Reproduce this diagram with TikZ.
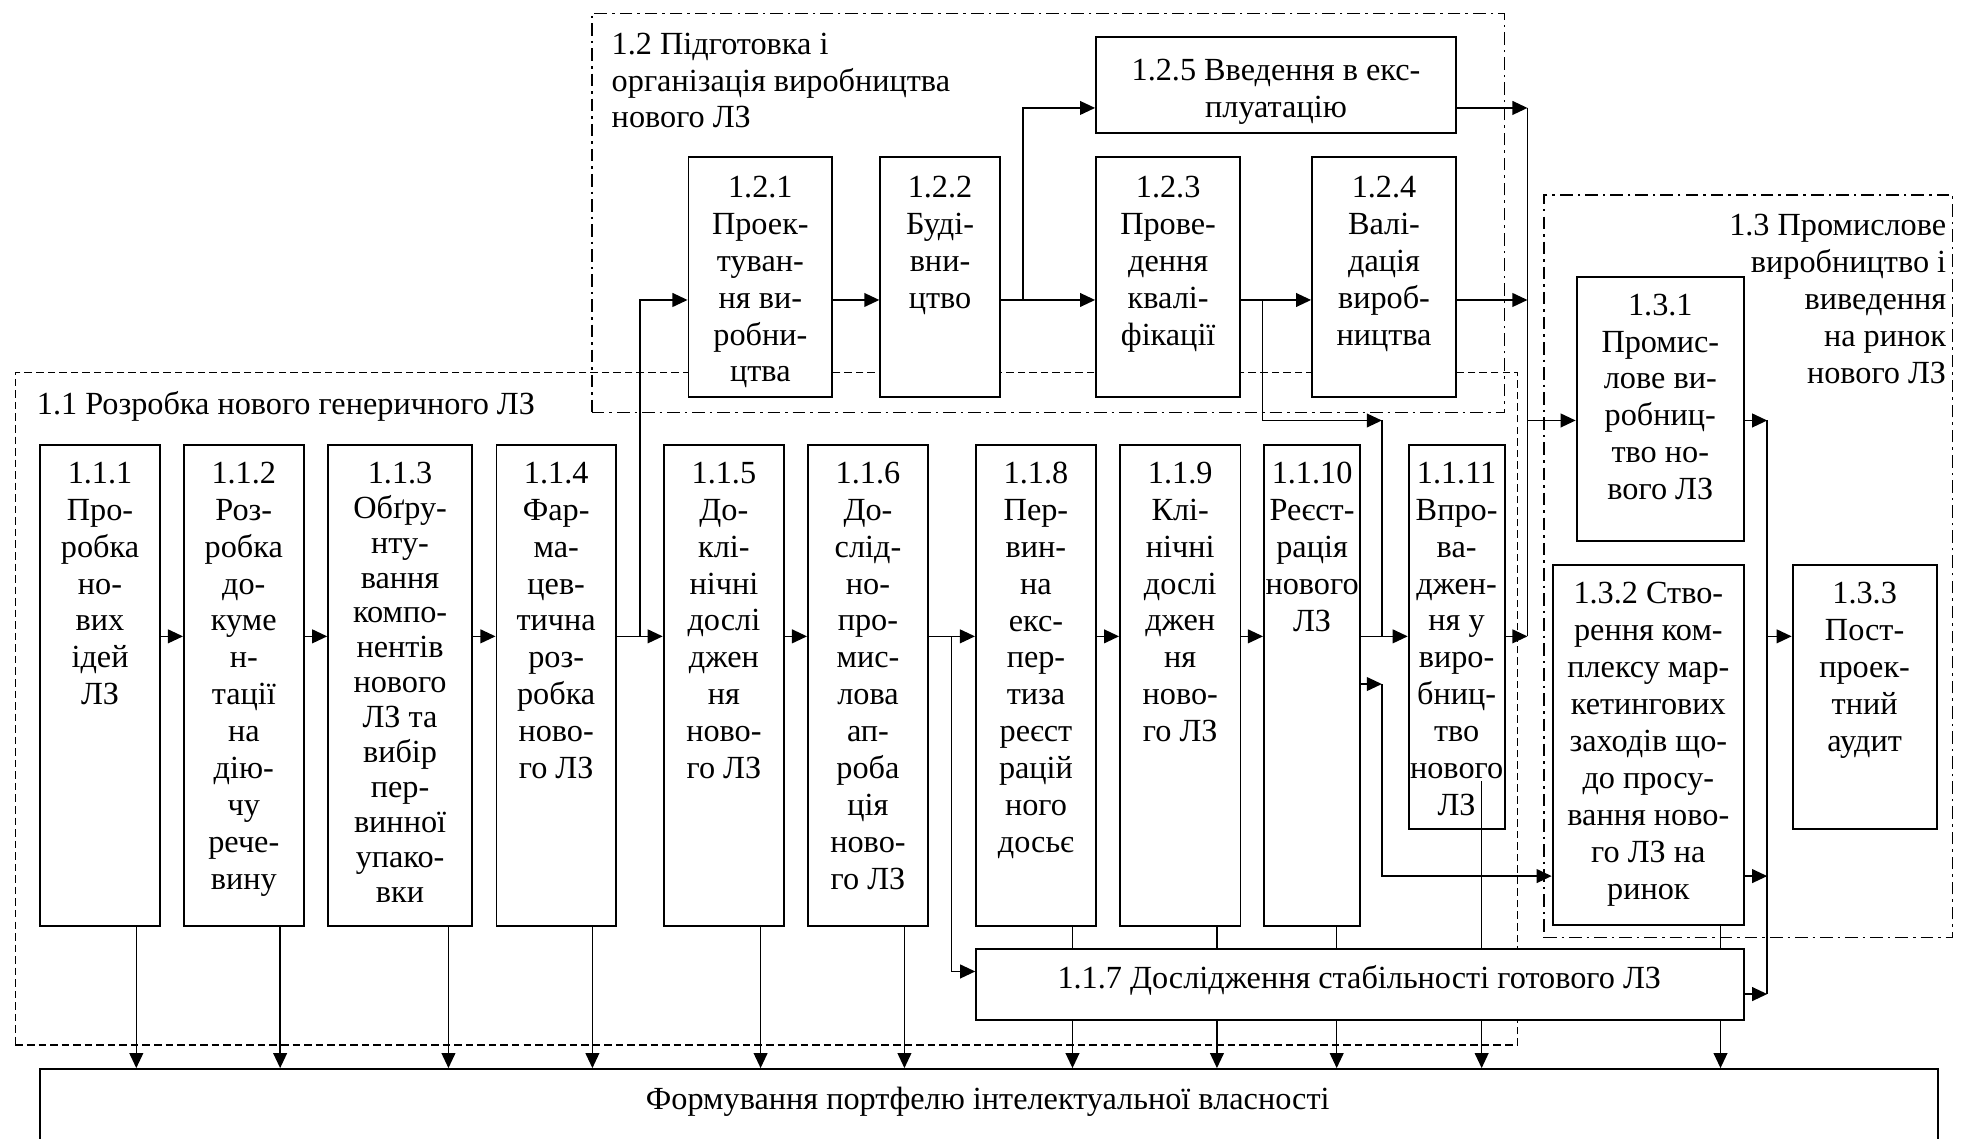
\documentclass[tikz,border=0pt]{standalone}
\usepackage{fontspec}
\setmainfont{Liberation Serif}
\usetikzlibrary{arrows.meta}
\tikzset{
  blk/.style={draw, fill=white, line width=0.75pt, inner sep=0pt, anchor=north west},
  txt/.style={anchor=north, align=center, inner sep=0pt, font=\fontsize{12.85}{14.7}\selectfont},
  lbl/.style={inner sep=0pt, font=\fontsize{12.85}{14.7}\selectfont},
  con/.style={line width=0.6pt},
  arr/.style={con, -{Triangle[length=6pt,width=5.5pt]}},
  grpdash/.style={draw, line width=0.6pt, dash pattern=on 3pt off 1.6pt, inner sep=0pt, anchor=north west},
  grpdot/.style={draw, line width=0.6pt, dash pattern=on 5pt off 2pt on 1pt off 2pt, inner sep=0pt, anchor=north west},
}
\newcommand{\mkbox}[7]{%
  \node[blk, minimum width={(#4-#2)*0.5pt}, minimum height={(#5-#3)*0.5pt}] (#1) at (#2,#3) {};
  \node[txt, #6] (#1t) at (#1.north) {#7};
}
\begin{document}
\begin{tikzpicture}[x=0.5pt,y=-0.5pt]
\useasboundingbox (0,0) rectangle (1568,907);
\clip (0,0) rectangle (1568,907);
% groups
\node[grpdash, minimum width={(1208.5-11.7)*0.5pt}, minimum height={(832-296)*0.5pt}] (g11) at (11.7,296) {};
\node[grpdot, minimum width={(1198-471)*0.5pt}, minimum height={(328-10)*0.5pt}] (g12) at (471,10) {};
\node[grpdot, minimum width={(1555-1229.6)*0.5pt}, minimum height={(746.5-154.6)*0.5pt}] (g13) at (1229.6,154.6) {};
\node[lbl, anchor=base west] (g11t) at (29,330.4) {1.1 Розробка нового генеричного ЛЗ};
\node[lbl, anchor=north west, align=left] (g12t) at (487,25.7) {1.2 Підготовка і\\організація виробництва\\нового ЛЗ};
\node[lbl, anchor=north east, align=right] (g13t) at (1551,170.2) {1.3 Промислове\\виробництво і\\виведення\\на ринок\\нового ЛЗ};

% bottom box
\node[blk, minimum width={(1543-31)*0.5pt}, minimum height={(915-851)*0.5pt}] (bot) at (31,851) {};
\node[lbl] (bott) at (787,878) {Формування портфелю інтелектуальної власності};

% row 1.1
\mkbox{b111}{31.3}{353.5}{126.6}{737}{yshift=-7.1pt}{1.1.1\\Про-\\робка\\но-\\вих\\ідей\\ЛЗ}
\mkbox{b112}{145.8}{353.5}{241.2}{737}{yshift=-7.1pt}{1.1.2\\Роз-\\робка\\до-\\куме\\н-\\тації\\на\\дію-\\чу\\рече-\\вину}
\mkbox{b113}{260.7}{353.5}{375.3}{737}{yshift=-7.1pt, font=\fontsize{12.85}{13.9}\selectfont}{1.1.3\\Обґру-\\нту-\\вання\\компо-\\нентів\\нового\\ЛЗ та\\вибір\\пер-\\винної\\упако-\\вки}
\mkbox{b114}{394.8}{353.5}{490}{737}{yshift=-7.1pt}{1.1.4\\Фар-\\ма-\\цев-\\тична\\роз-\\робка\\ново-\\го ЛЗ}
\mkbox{b115}{528}{353.5}{624}{737}{yshift=-7.1pt}{1.1.5\\До-\\клі-\\нічні\\дослі\\джен\\ня\\ново-\\го ЛЗ}
\mkbox{b116}{643}{353.5}{738.6}{737}{yshift=-7.1pt}{1.1.6\\До-\\слід-\\но-\\про-\\мис-\\лова\\ап-\\роба\\ція\\ново-\\го ЛЗ}
\mkbox{b118}{776.8}{353.5}{872.5}{737}{yshift=-7.1pt}{1.1.8\\Пер-\\вин-\\на\\екс-\\пер-\\тиза\\реєст\\рацій\\ного\\досьє}
\mkbox{b119}{891.6}{353.5}{987.6}{737}{yshift=-7.1pt}{1.1.9\\Клі-\\нічні\\дослі\\джен\\ня\\ново-\\го ЛЗ}
\mkbox{b1110}{1006.3}{353.5}{1083}{737}{yshift=-7.1pt}{1.1.10\\Реєст-\\рація\\нового\\ЛЗ}
\mkbox{b1111}{1121.6}{353.5}{1198}{660}{yshift=-7.1pt}{1.1.11\\Впро-\\ва-\\джен-\\ня у\\виро-\\бниц-\\тво\\нового\\ЛЗ}
\node[blk, minimum width={(1389-777)*0.5pt}, minimum height={(812-755.5)*0.5pt}] (b117) at (777,755.5) {};
\node[lbl] (b117t) at (1083,781) {1.1.7 Дослідження стабільності готового ЛЗ};

% row 1.2
\mkbox{b121}{547.8}{124}{662.3}{315.5}{yshift=-7.95pt}{1.2.1\\Проек-\\туван-\\ня ви-\\робни-\\цтва}
\mkbox{b122}{700.6}{124}{795.8}{315.5}{yshift=-7.95pt}{1.2.2\\Буді-\\вни-\\цтво}
\mkbox{b123}{872.5}{124}{987.4}{315.5}{yshift=-7.95pt}{1.2.3\\Прове-\\дення\\квалі-\\фікації}
\mkbox{b124}{1044.6}{124}{1159.3}{315.5}{yshift=-7.95pt}{1.2.4\\Валі-\\дація\\вироб-\\ництва}
\mkbox{b125}{872.5}{28.4}{1159.3}{104.9}{yshift=-9.3pt}{1.2.5 Введення в екс-\\плуатацію}

% group 1.3
\mkbox{b131}{1255.4}{220}{1388.8}{430}{yshift=-6.85pt}{1.3.1\\Промис-\\лове ви-\\робниц-\\тво но-\\вого ЛЗ}
\mkbox{b132}{1236.3}{449.5}{1388.8}{736}{yshift=-7.1pt}{1.3.2 Ство-\\рення ком-\\плексу мар-\\кетингових\\заходів що-\\до просу-\\вання ново-\\го ЛЗ на\\ринок}
\mkbox{b133}{1427.5}{449.5}{1542.3}{659.5}{yshift=-7.1pt}{1.3.3\\Пост-\\проек-\\тний\\аудит}

% junction coordinates
\coordinate (ym) at (0,507);
\coordinate (yu) at (0,239);
\coordinate (j4) at (510,507);
\coordinate (j6) at (758,507);
\coordinate (j22) at (815,239);
\coordinate (j23) at (1006,239);
\coordinate (k1) at (1101,335);
\coordinate (k2) at (1101,545);
\coordinate (a1) at (1217,86);
\coordinate (a2) at (1217,239);
\coordinate (a3) at (1217,507);
\coordinate (a4) at (1217,335);
\coordinate (c1) at (1408,335);
\coordinate (c2) at (1408,698);
\coordinate (c3) at (1408,792);
\coordinate (c4) at (1408,507);

% main row arrows
\draw[arr] (b111.east |- ym) -- (b112.west |- ym);
\draw[arr] (b112.east |- ym) -- (b113.west |- ym);
\draw[arr] (b113.east |- ym) -- (b114.west |- ym);
\draw[arr] (b114.east |- ym) -- (b115.west |- ym);
\draw[arr] (b115.east |- ym) -- (b116.west |- ym);
\draw[arr] (b116.east |- ym) -- (b118.west |- ym);
\draw[arr] (b118.east |- ym) -- (b119.west |- ym);
\draw[arr] (b119.east |- ym) -- (b1110.west |- ym);
\draw[arr] (b1110.east |- ym) -- (b1111.west |- ym);
\draw[arr] (j4) |- (b121.west |- yu);
\draw[arr] (j6) |- (b117.west |- 0,774);

% row 1.2 arrows
\draw[arr] (b121.east |- yu) -- (b122.west |- yu);
\draw[arr] (b122.east |- yu) -- (b123.west |- yu);
\draw[arr] (b123.east |- yu) -- (b124.west |- yu);
\draw[arr] (j22) |- (b125.west |- a1);
\draw[arr] (j23) |- (k1);
\draw[con] (k1) -- (k1 |- ym);
\draw[arr] (b1110.east |- k2) -- (k2);
\draw[arr] (k2) |- (b132.west |- c2);

% bus A
\draw[arr] (b125.east |- a1) -- (a1);
\draw[arr] (b124.east |- a2) -- (a2);
\draw[arr] (b1111.east |- a3) -- (a3);
\draw[con] (a1) -- (a3);
\draw[arr] (a4) -- (b131.west |- a4);

% bus B
\draw[arr] (b131.east |- c1) -- (c1);
\draw[arr] (b132.east |- c2) -- (c2);
\draw[arr] (b117.east |- c3) -- (c3);
\draw[con] (c1) -- (c3);
\draw[arr] (c4) -- (b133.west |- c4);

% verticals down
\foreach \b in {b111,b112,b113,b114,b115,b116}
  \draw[arr] ([xshift=-9.75pt]\b.south east) -- ([xshift=-9.75pt]\b.south east |- bot.north);
\foreach \b in {b118,b119,b1110,b132} {
  \draw[con] ([xshift=-9.75pt]\b.south east) -- ([xshift=-9.75pt]\b.south east |- b117.north);
  \draw[arr] ([xshift=-9.75pt]\b.south east |- b117.south) -- ([xshift=-9.75pt]\b.south east |- bot.north);
}
\draw[con] ([xshift=-9.5pt,yshift=19.5pt]b1111.south east) -- ([xshift=-9.5pt]b1111.south east |- b117.north);
\draw[arr] ([xshift=-9.5pt]b1111.south east |- b117.south) -- ([xshift=-9.5pt]b1111.south east |- bot.north);
\end{tikzpicture}
\end{document}
